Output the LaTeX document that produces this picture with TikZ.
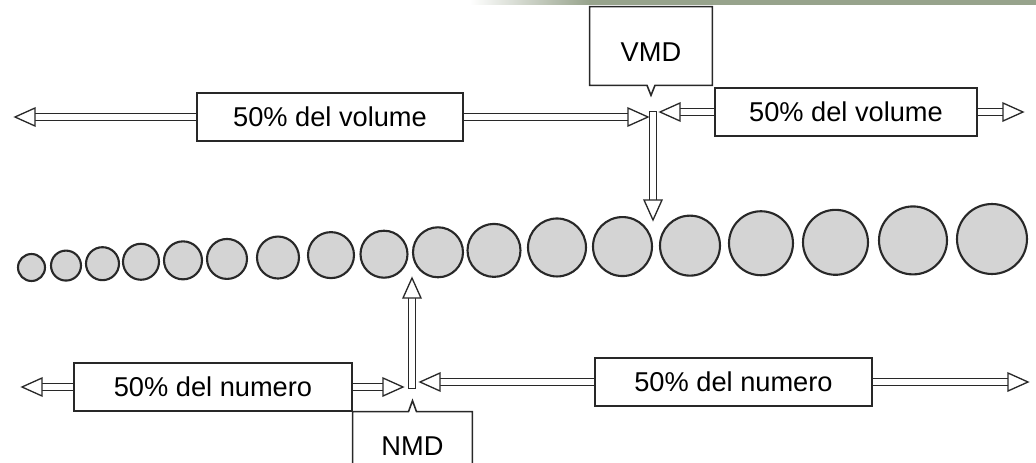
\documentclass[tikz,border=0pt]{standalone}
\usepackage{fontspec}
\setmainfont{Liberation Sans}
\usetikzlibrary{calc,backgrounds}
\definecolor{bandgreen}{RGB}{151,163,140}
\definecolor{bandpale}{RGB}{222,226,192}
\definecolor{beadgrey}{RGB}{212,212,212}
\definecolor{inkgrey}{RGB}{40,40,40}
\tikzset{
    pctbox/.style={draw=inkgrey, fill=white, line width=0.9pt,
                   minimum width=#1, minimum height=0.95cm, inner sep=0pt,
                   font=\fontsize{15.5}{18}\selectfont},
    shaft/.style={draw=inkgrey, double=white, double distance=3pt,
                  line width=0.75pt, line cap=rect},
    headtip/.style={draw=inkgrey, fill=white, line width=0.75pt, line join=miter},
    bead/.style={circle, draw=inkgrey, line width=1.2pt, fill=beadgrey,
                 inner sep=0pt, outer sep=0pt, minimum size=#1},
    callout/.style={draw=inkgrey, line width=0.9pt},
}

\begin{document}
\begin{tikzpicture}[x=0.02cm, y=-0.02cm]
    \useasboundingbox (0,0) rectangle (1036,463);
    \clip (0,0) rectangle (1036,463);

    % band at the top edge
    \shade[left color=white, middle color=bandpale, right color=bandgreen]
        (470,0) rectangle (590,4.5);
    \fill[bandgreen] (590,0) rectangle (1036,4.5);

    % arrow ends
    \coordinate (vtipL) at (15,117);
    \coordinate (vtipC1) at (648,117);
    \coordinate (vtipC2) at (660,112);
    \coordinate (vtipR) at (1023,112);
    \coordinate (vdrop) at (653,115);
    \coordinate (vtipD) at (653,220);
    \coordinate (ntipL) at (22,387);
    \coordinate (ntipC1) at (403,387);
    \coordinate (ntipC2) at (420,382);
    \coordinate (ntipR) at (1028,382);
    \coordinate (nrise) at (412,385);
    \coordinate (ntipU) at (412,278);

    % boxes
    \node[pctbox=5.32cm] (vleft) at (330,117) {50\% del volume};
    \node[pctbox=5.24cm] (vright) at (846,112) {50\% del volume};
    \node[pctbox=5.56cm] (nleft) at (213,387) {50\% del numero};
    \node[pctbox=5.54cm] (nright) at (733.5,382) {50\% del numero};

    % callouts
    \node[font=\fontsize{15.5}{18}\selectfont, text height=17.5pt,
          minimum width=2.44cm, minimum height=1.56cm] (vmd) at (651,46) {VMD};
    \draw[callout] (vmd.south west) -- (vmd.north west) -- (vmd.north east)
        -- (vmd.south east) -- ($(vmd.south)+(4,0)$) -- ($(vmd.south)+(0,10)$)
        -- ($(vmd.south)+(-4,0)$) -- cycle;
    \node[font=\fontsize{15.5}{18}\selectfont, text height=22pt, inner sep=0pt,
          minimum width=2.38cm, minimum height=0.98cm] (nmd) at (412.5,436.5) {NMD};
    \draw[callout] ($(nmd.south west)+(0,6)$) -- (nmd.north west)
        -- ($(nmd.north)+(-4,0)$) -- ($(nmd.north)+(0,-11)$)
        -- ($(nmd.north)+(4,0)$) -- (nmd.north east) -- ($(nmd.south east)+(0,6)$);

    % particles
    \foreach \cx/\r [count=\i] in {31.5/13.5, 66/15, 102.5/16.5, 141/18, 183/19,
        227/20, 278/21, 331/23, 384/23.5, 438/25, 494/26.5, 557/29, 622.5/29.5,
        690/30, 761/32, 835.5/32.5, 913/34, 992/35}
        \node[bead={\r*0.04cm}] (b\i) at (\cx,{281-7*(\i-1)/17-\r}) {};

    % shafts
    \begin{scope}[on background layer]
        \draw[shaft] ($(vtipL)+(20,0)$) -- (vleft.west);
        \draw[shaft] (vleft.east) -- ($(vtipC1)+(-20,0)$);
        \draw[shaft] ($(vtipC2)+(20,0)$) -- (vright.west);
        \draw[shaft] (vright.east) -- ($(vtipR)+(-20,0)$);
        \draw[shaft] (vdrop) -- ($(vtipD)+(0,-20)$);
        \draw[shaft] ($(ntipL)+(20,0)$) -- (nleft.west);
        \draw[shaft] (nleft.east) -- ($(ntipC1)+(-20,0)$);
        \draw[shaft] ($(ntipC2)+(20,0)$) -- (nright.west);
        \draw[shaft] (nright.east) -- ($(ntipR)+(-20,0)$);
        \draw[shaft] (nrise) -- ($(ntipU)+(0,20)$);
    \end{scope}

    % open heads
    \foreach \t/\a in {vtipL/180, vtipC1/0, vtipC2/180, vtipR/0, vtipD/-90,
                       ntipL/180, ntipC1/0, ntipC2/180, ntipR/0, ntipU/90}
        \draw[headtip, shift={(\t)}, rotate=\a] (0,0) -- (-20,-9) -- (-20,9) -- cycle;
\end{tikzpicture}
\end{document}
